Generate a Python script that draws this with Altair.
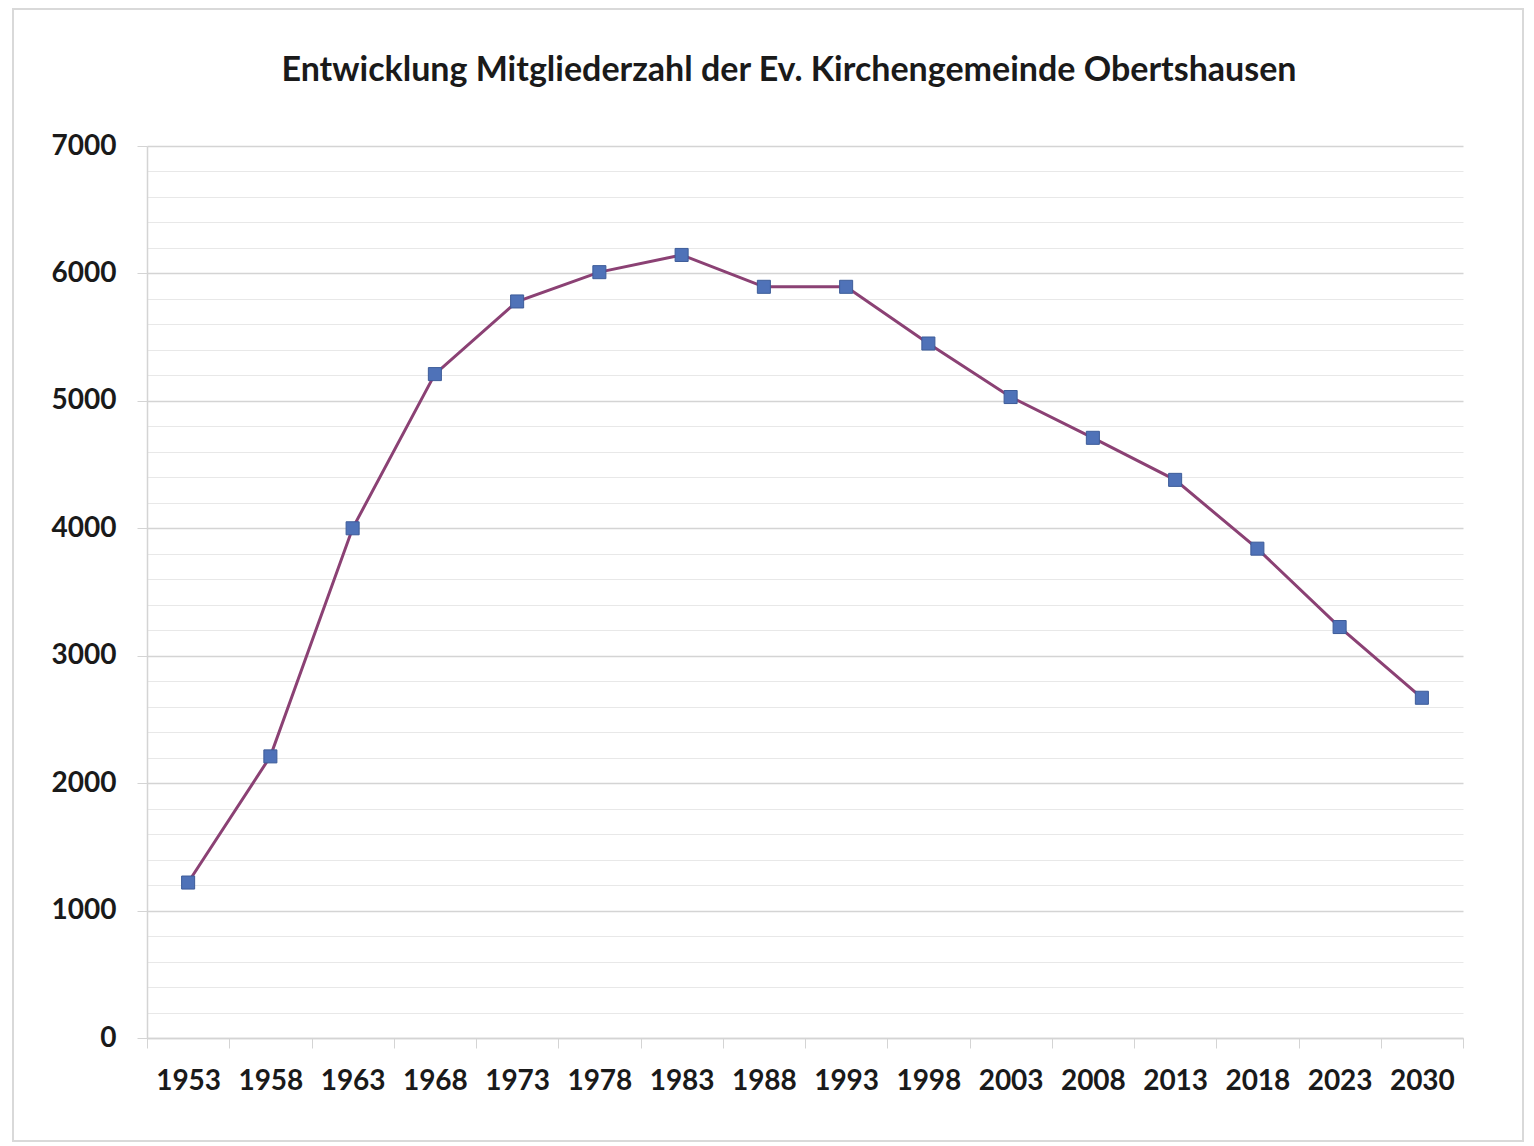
import altair as alt
import pandas as pd

years = ["1953", "1958", "1963", "1968", "1973", "1978", "1983", "1988",
         "1993", "1998", "2003", "2008", "2013", "2018", "2023", "2030"]
members = [1220, 2210, 4000, 5210, 5780, 6010, 6145, 5895,
           5895, 5450, 5030, 4710, 4380, 3840, 3225, 2670]
y_grid = list(range(0, 7001, 200))

title_text = "Entwicklung Mitgliederzahl der Ev. Kirchengemeinde Obertshausen"

df = pd.DataFrame({"Jahr": years, "Mitglieder": members})

FONT = "Lato"

x_enc = alt.X(
    "Jahr:N", sort=years, title=None,
    scale=alt.Scale(paddingInner=0, paddingOuter=0),
    axis=alt.Axis(
        labelAngle=0, labelFont=FONT, labelFontSize=28, labelFontWeight="bold",
        labelColor="#1a1a1a", labelPadding=19, tickBand="extent", tickSize=10,
        tickColor="#d4d4d4", domainColor="#d4d4d4", domainWidth=1.5, grid=False,
        labelOverlap=False,
    ),
)
y_enc = alt.Y(
    "Mitglieder:Q", title=None,
    scale=alt.Scale(domain=[0, 7000], nice=False),
    axis=alt.Axis(
        values=y_grid, tickCount=100, format="d",
        labelExpr="datum.value % 1000 === 0 ? datum.label : ''",
        labelFont=FONT, labelFontSize=28, labelFontWeight="bold", labelColor="#1a1a1a",
        labelPadding=21, tickSize=10, tickColor="#d4d4d4", labelOverlap=False,
        tickOpacity={"condition": {"test": "datum.value % 1000 === 0", "value": 1}, "value": 0},
        grid=True,
        gridColor={"condition": {"test": "datum.value % 1000 === 0", "value": "#d4d4d4"}, "value": "#e8e8e8"},
        gridWidth={"condition": {"test": "datum.value % 1000 === 0", "value": 1.5}, "value": 1},
        domainColor="#d4d4d4", domainWidth=1.5,
    ),
)

line = alt.Chart(df).mark_line(color="#8B4174", strokeWidth=3).encode(x=x_enc, y=y_enc)
points = alt.Chart(df).mark_point(
    shape="square", filled=True, size=170, fill="#4F72B8", stroke="#3d5c99",
    strokeWidth=1, opacity=1,
).encode(x=alt.X("Jahr:N", sort=years), y="Mitglieder:Q")

border = alt.Chart(pd.DataFrame({"a": [0]})).mark_rect(
    fill=None, stroke="#d9d9d9", strokeWidth=2
).encode(x=alt.value(-134), x2=alt.value(1376), y=alt.value(-137), y2=alt.value(995))

chart = alt.layer(border, line, points).properties(
    width=1316, height=892,
    title=alt.TitleParams(title_text, font=FONT, fontSize=34, fontWeight="bold",
                          color="#1a1a1a", anchor="middle", offset=-80, dx=-16),
    padding={"left": 4, "top": 0, "right": 0, "bottom": 0},
).configure_view(stroke=None)

chart.save("out.html", embed_options={"renderer": "svg", "actions": False})
